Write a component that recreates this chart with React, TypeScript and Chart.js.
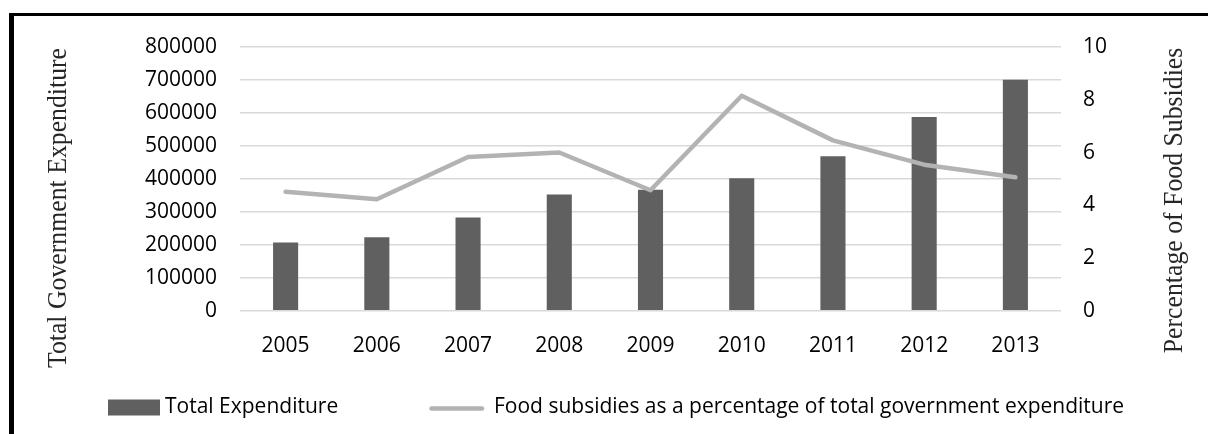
import React, { useEffect, useRef } from "react";
import { Chart, registerables } from "chart.js";

Chart.register(...registerables);

// ---- data ----
const years = ["2005", "2006", "2007", "2008", "2009", "2010", "2011", "2012", "2013"];
const totalExpenditure = [207000, 223000, 283000, 353000, 367000, 402000, 469000, 588000, 701000];
const foodSubsidyPct = [4.51, 4.23, 5.83, 6.0, 4.57, 8.15, 6.46, 5.54, 5.06];
const seriesLabels = [
  "Total Expenditure",
  "Food subsidies as a percentage of total government expenditure",
];
const axisTitles = ["Total Government Expenditure", "Percentage of Food Subsidies"];
const leftAxisRange = [0, 800000, 100000];
const rightAxisRange = [0, 10, 2];

const BAR_COLOR = "#606060";
const LINE_COLOR = "#b3b3b3";
const GRID_COLOR = "#d9d9d9";
const SANS = '"Open Sans", "Liberation Sans", sans-serif';
const SERIF = '"Liberation Serif", "DejaVu Serif", serif';

// Draws the rotated serif axis titles (both read bottom-to-top) and the legend.
const decorPlugin = {
  id: "decor",
  afterDraw(chart: any) {
    const ctx = chart.ctx as CanvasRenderingContext2D;
    const area = chart.chartArea;
    ctx.save();
    // axis titles
    ctx.font = "28px " + SERIF;
    ctx.fillStyle = "#262626";
    ctx.textAlign = "center";
    ctx.textBaseline = "alphabetic";
    const drawTitle = (text: string, x: number, y: number) => {
      ctx.save();
      ctx.translate(x, y);
      ctx.rotate(-Math.PI / 2);
      ctx.scale(0.92, 1);
      ctx.fillText(text, 0, 0);
      ctx.restore();
    };
    drawTitle(axisTitles[0], area.left - 174.5, 208);
    drawTitle(axisTitles[1], area.right + 121, 200.5);

    // legend
    const ds = chart.data.datasets;
    const ly = 407.5;
    ctx.font = "21px " + SANS;
    ctx.textAlign = "left";
    ctx.textBaseline = "middle";
    // bar swatch
    ctx.fillStyle = ds[0].backgroundColor;
    ctx.fillRect(108, ly - 8, 52, 16);
    ctx.fillStyle = "#000";
    ctx.fillText(ds[0].label, 165, ly);
    // line swatch
    ctx.strokeStyle = ds[1].borderColor;
    ctx.lineWidth = ds[1].borderWidth;
    ctx.lineCap = "round";
    ctx.beginPath();
    ctx.moveTo(431.5, ly + 1);
    ctx.lineTo(482, ly + 1);
    ctx.stroke();
    ctx.fillText(ds[1].label, 494, ly);
    ctx.restore();
  },
};

const plainTick = (v: any) => String(v);

export default function App() {
  const canvasRef = useRef<HTMLCanvasElement | null>(null);

  useEffect(() => {
    if (!canvasRef.current) return;
    const chart = new Chart(canvasRef.current, {
      type: "bar",
      data: {
        labels: years,
        datasets: [
          {
            type: "bar",
            label: seriesLabels[0],
            data: totalExpenditure,
            backgroundColor: BAR_COLOR,
            borderWidth: 0,
            yAxisID: "y",
            categoryPercentage: 1,
            barPercentage: 0.275,
            order: 2,
          },
          {
            type: "line",
            label: seriesLabels[1],
            data: foodSubsidyPct,
            borderColor: LINE_COLOR,
            backgroundColor: LINE_COLOR,
            borderWidth: 4.5,
            borderCapStyle: "round",
            borderJoinStyle: "round",
            pointRadius: 0,
            tension: 0,
            fill: false,
            yAxisID: "y1",
            order: 1,
          },
        ],
      },
      options: {
        responsive: false,
        animation: false,
        devicePixelRatio: 1,
        layout: { padding: { left: 0, right: 0, top: 47, bottom: 52 } },
        plugins: {
          legend: { display: false },
          tooltip: { enabled: false },
          title: { display: false },
        },
        scales: {
          x: {
            grid: { display: false, drawTicks: false },
            border: { display: false },
            ticks: {
              color: "#000",
              font: { family: SANS, size: 21 },
              padding: 23,
              maxRotation: 0,
            },
          },
          y: {
            position: "left",
            min: leftAxisRange[0],
            max: leftAxisRange[1],
            grid: { color: GRID_COLOR, lineWidth: 1.5, drawTicks: false },
            border: { display: false },
            ticks: {
              stepSize: leftAxisRange[2],
              color: "#000",
              font: { family: SANS, size: 21 },
              padding: 23,
              callback: plainTick,
            },
            afterFit(scale: any) {
              scale.width = 240;
            },
          },
          y1: {
            position: "right",
            min: rightAxisRange[0],
            max: rightAxisRange[1],
            grid: { display: false, drawTicks: false },
            border: { display: false },
            ticks: {
              stepSize: rightAxisRange[2],
              color: "#000",
              font: { family: SANS, size: 21 },
              padding: 22,
              callback: plainTick,
            },
            afterFit(scale: any) {
              scale.width = 147;
            },
          },
        },
      },
      plugins: [decorPlugin],
    });
    return () => chart.destroy();
  }, []);

  return (
    <div
      style={{
        position: "fixed",
        left: 0,
        top: 0,
        width: 1208,
        height: 434,
        background: "#fff",
        overflow: "hidden",
      }}
    >
      <div
        style={{
          position: "absolute",
          left: 9,
          top: 13,
          right: 0,
          bottom: 0,
          borderLeft: "5px solid #000",
          borderTop: "3px solid #000",
        }}
      />
      <canvas
        ref={canvasRef}
        width={1208}
        height={434}
        style={{ position: "absolute", left: 0, top: 0, display: "block" }}
      />
    </div>
  );
}
